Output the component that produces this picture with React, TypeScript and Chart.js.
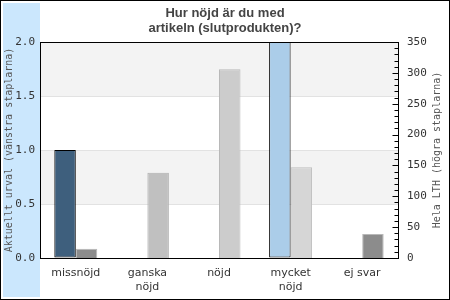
import React, { useEffect, useRef } from "react";
import { Chart, registerables } from "chart.js";

Chart.register(...registerables);

const titleLines = ["Hur nöjd är du med", "artikeln (slutprodukten)?"];
const categories: (string | string[])[] = ["missnöjd", ["ganska", "nöjd"], "nöjd", ["mycket", "nöjd"], "ej svar"];
const leftValues: (number | null)[] = [1, null, null, 2, null];
const rightValues: number[] = [15, 138, 306, 147, 39];
const leftColors = ["#3e5f7d", "#3e5f7d", "#3e5f7d", "#abcde9", "#3e5f7d"];
const rightColors = ["#8c8c8c", "#c0c0c0", "#cccccc", "#d6d6d6", "#8c8c8c"];
const rightBorders = ["#b8b8b8", "#b0b0b0", "#b8b8b8", "#bdbdbd", "#b8b8b8"];
const leftTitle = "Aktuellt urval (vänstra staplarna)";
const rightTitle = "Hela LTH (högra staplarna)";

const framePlugin = {
  id: "frame",
  beforeDraw(chart: any) {
    const { ctx, width, height, chartArea, scales } = chart;
    ctx.save();
    ctx.fillStyle = "#ffffff";
    ctx.fillRect(0, 0, width, height);
    ctx.fillStyle = "#cbe7fd";
    ctx.fillRect(3, 3, 37, height - 6);
    const y = scales.y;
    ctx.fillStyle = "#f3f3f3";
    const bands = [[1.5, 2.0], [0.5, 1.0]];
    for (const [a, b] of bands) {
      const y1 = y.getPixelForValue(b);
      const y2 = y.getPixelForValue(a);
      ctx.fillRect(chartArea.left, y1, chartArea.right - chartArea.left, y2 - y1);
    }
    ctx.restore();
  },
  afterDraw(chart: any) {
    const { ctx, width, height, chartArea, scales } = chart;
    const { left, right, top, bottom } = chartArea;
    ctx.save();
    ctx.strokeStyle = "#000";
    ctx.lineWidth = 1;
    ctx.strokeRect(Math.round(left) + 0.5, Math.round(top) + 0.5, Math.round(right - left), Math.round(bottom - top));
    const y2 = scales.y2;
    ctx.beginPath();
    for (let v = 0; v <= 350; v += 10) {
      const py = Math.round(y2.getPixelForValue(v)) + 0.5;
      const len = v % 50 === 0 ? 6 : 4;
      ctx.moveTo(Math.round(right) + 0.5 - len, py);
      ctx.lineTo(Math.round(right) + 0.5, py);
    }
    ctx.stroke();
    ctx.strokeRect(0.5, 0.5, width - 1, height - 1);
    ctx.fillStyle = "#444";
    ctx.font = "bold 13px 'Liberation Sans', Arial, sans-serif";
    ctx.textAlign = "center";
    ctx.textBaseline = "middle";
    ctx.fillText(titleLines[0], width / 2, 13);
    ctx.fillText(titleLines[1], width / 2, 28);
    ctx.font = "10px 'DejaVu Sans Mono', monospace";
    ctx.fillStyle = "#555";
    const cy = (top + bottom) / 2;
    ctx.save();
    ctx.translate(9, cy);
    ctx.rotate(-Math.PI / 2);
    ctx.fillText(leftTitle, 0, 0);
    ctx.restore();
    ctx.save();
    ctx.translate(437, cy);
    ctx.rotate(-Math.PI / 2);
    ctx.fillText(rightTitle, 0, 0);
    ctx.restore();
    ctx.restore();
  },
};

export default function App() {
  const ref = useRef<HTMLCanvasElement>(null);
  useEffect(() => {
    if (!ref.current) return;
    const chart = new Chart(ref.current, {
      type: "bar",
      data: {
        labels: categories,
        datasets: [
          {
            label: "Aktuellt urval",
            data: leftValues,
            yAxisID: "y",
            backgroundColor: leftColors,
            borderColor: "#000",
            borderWidth: 1,
            borderSkipped: false,
            categoryPercentage: 0.6,
            barPercentage: 1,
          },
          {
            label: "Hela LTH",
            data: rightValues,
            yAxisID: "y2",
            backgroundColor: rightColors,
            borderColor: rightBorders,
            borderWidth: 1,
            categoryPercentage: 0.6,
            barPercentage: 1,
          },
        ],
      },
      options: {
        responsive: false,
        animation: false,
        layout: { padding: { top: 42, left: 0, right: 0, bottom: 0 } },
        plugins: { legend: { display: false }, title: { display: false }, tooltip: { enabled: false } },
        scales: {
          x: {
            grid: { display: false, drawTicks: false },
            border: { display: false },
            ticks: {
              color: "#333",
              font: { family: "'DejaVu Sans', sans-serif", size: 11, lineHeight: 1.2 },
              padding: 9,
              maxRotation: 0,
              autoSkip: false,
            },
            afterFit(scale: any) {
              scale.height = 42;
            },
          },
          y: {
            position: "left",
            min: 0,
            max: 2,
            grid: { color: "#e2e2e2", drawTicks: false },
            border: { display: false },
            ticks: {
              stepSize: 0.5,
              color: "#333",
              padding: 5,
              font: { family: "'DejaVu Sans Mono', monospace", size: 11 },
              callback: (v: any) => Number(v).toFixed(1),
            },
            afterFit(scale: any) {
              scale.width = 40;
            },
          },
          y2: {
            position: "right",
            min: 0,
            max: 350,
            grid: { display: false, drawTicks: false },
            border: { display: false },
            ticks: {
              stepSize: 50,
              color: "#333",
              padding: 9,
              font: { family: "'DejaVu Sans Mono', monospace", size: 11 },
            },
            afterFit(scale: any) {
              scale.width = 52;
            },
          },
        },
      },
      plugins: [framePlugin],
    } as any);
    return () => chart.destroy();
  }, []);
  return (
    <div style={{ position: "absolute", left: 0, top: 0, width: 450, height: 300 }}>
      <canvas ref={ref} width={450} height={300} style={{ display: "block" }} />
    </div>
  );
}
